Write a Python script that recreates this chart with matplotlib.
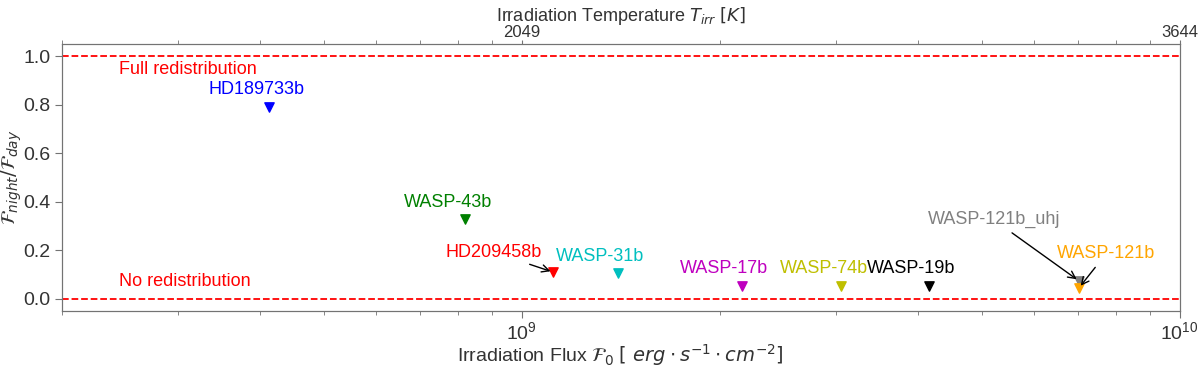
import matplotlib.pyplot as plt
import numpy as np

plt.rcParams['font.family'] = ['Liberation Sans', 'DejaVu Sans']

# planets: irradiation flux, night/day flux ratio
planets = ['HD189733b', 'WASP-43b', 'HD209458b', 'WASP-31b', 'WASP-17b',
           'WASP-74b', 'WASP-19b', 'WASP-121b_uhj', 'WASP-121b']
flux = [4.13e8, 8.2e8, 1.116e9, 1.40e9, 2.16e9, 3.06e9, 4.16e9, 7.03e9, 7.03e9]
ratio = [0.79, 0.33, 0.11, 0.105, 0.053, 0.053, 0.053, 0.074, 0.045]
colors = ['b', 'g', 'r', 'c', 'm', 'y', 'k', 'gray', 'orange']

top_ticks = [1e9, 1e10]
top_tick_labels = ['2049', '3644']

# label offsets in pixels and whether an arrow is drawn
offsets = [(-13, 18), (-17, 16), (-60, 20), (-18, 17), (-18, 17),
           (-17, 17), (-18, 17), (-85, 61), (27, 34)]
arrows = [False, False, True, False, False, False, False, True, True]

fig, ax = plt.subplots(figsize=(12, 3.72), dpi=100)
fig.subplots_adjust(left=0.0517, right=0.983, top=0.882, bottom=0.164)

ax.axhline(1.0, color='r', ls='--', lw=1.3)
ax.axhline(0.0, color='r', ls='--', lw=1.3)
ax.text(2.44e8, 0.943, 'Full redistribution', color='r', fontsize=13, va='center')
ax.text(2.44e8, 0.07, 'No redistribution', color='r', fontsize=13, va='center')

for name, x, y, c, off, arr in zip(planets, flux, ratio, colors, offsets, arrows):
    ax.scatter(x, y, marker='v', s=45, color=c, zorder=3)
    if arr:
        ax.annotate(name, xy=(x, y), xytext=off, textcoords='offset pixels',
                    color=c, fontsize=13, ha='center', va='center',
                    arrowprops=dict(arrowstyle='->', color='k', lw=1))
    else:
        ax.annotate(name, xy=(x, y), xytext=off, textcoords='offset pixels',
                    color=c, fontsize=13, ha='center', va='center')

ax.set_xscale('log')
ax.set_xlim(2e8, 1e10)
ax.set_ylim(-0.05, 1.05)
ax.set_yticks([0.0, 0.2, 0.4, 0.6, 0.8, 1.0])
ax.set_xlabel(r'Irradiation Flux $\mathcal{F}_0$ $[\ erg \cdot s^{-1} \cdot cm^{-2}]$',
              fontsize=14, color='0.2', labelpad=-1)
ax.set_ylabel(r'$\mathcal{F}_{night}/\mathcal{F}_{day}$', fontsize=14, color='0.2',
              labelpad=-1)

ax2 = ax.twiny()
ax2.set_xscale('log')
ax2.set_xlim(ax.get_xlim())
ax2.set_xticks(top_ticks)
ax2.set_xticklabels(top_tick_labels)
ax2.set_xlabel(r'Irradiation Temperature $T_{irr}$ $[K]$', fontsize=13, color='0.2',
               labelpad=3)

for a in (ax, ax2):
    for s in a.spines.values():
        s.set_color('0.45')
    a.tick_params(which='major', direction='out', length=5, color='0.45',
                  labelsize=14, labelcolor='0.2')
    a.tick_params(which='minor', direction='out', length=3, color='0.45')
ax.tick_params(axis='x', which='major', pad=2.5)
ax2.tick_params(which='major', length=3, pad=0, labelsize=12)

plt.savefig('out.png', dpi=100)
